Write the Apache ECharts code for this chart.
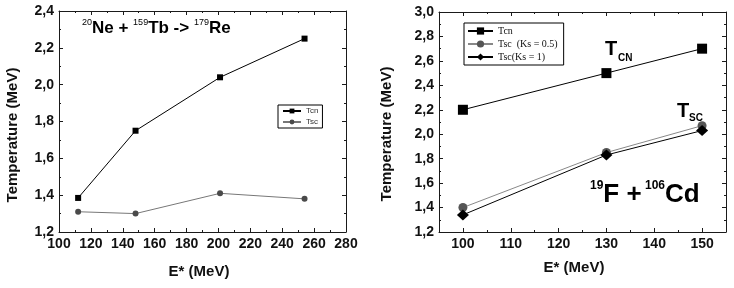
<!DOCTYPE html>
<html>
<head>
<meta charset="utf-8">
<script src="https://cdn.jsdelivr.net/npm/echarts@6/dist/echarts.min.js"></script>
<style>
  html, body { margin: 0; padding: 0; background: #fff; }
  #chart { width: 734px; height: 288px; }
</style>
</head>
<body>
<div id="chart"></div>
<script>
// left panel: 20Ne + 159Tb
const leftE = [112, 148, 201, 254]
const leftTcn = [1.385, 1.75, 2.04, 2.25]
const leftTsc = [1.31, 1.30, 1.41, 1.38]

// right panel: 19F + 106Cd
const rightE = [100, 130, 150]
const rightTcn = [2.2, 2.5, 2.7]
const rightTscHalf = [1.40, 1.85, 2.07]
const rightTscOne = [1.34, 1.83, 2.03]
const rightTicks = [100, 110, 120, 130, 140, 150]

const SANS = 'Liberation Sans'
const SERIF = 'Liberation Serif'
const INK = '#1a1a1a'

const pairs = (xs, ys) => xs.map((x, i) => [x, ys[i]])
const comma = v => v.toFixed(1).replace('.', ',')

const labelStyle = {
  fontFamily: SANS, fontSize: 14, fontWeight: 'bold', color: '#111', margin: 5
}

// one axis with inward ticks; pass extra fields to override
function axis(extra) {
  return Object.assign({
    type: 'value',
    splitLine: { show: false },
    axisLine: { show: true, onZero: false, lineStyle: { color: INK, width: 1 } },
    axisTick: { show: true, inside: true, length: 4, lineStyle: { color: INK } },
    minorTick: { show: true, splitNumber: 2, length: 2, lineStyle: { color: INK } },
    axisLabel: { show: false }
  }, extra)
}

const xAxes = [
  // left grid
  axis({
    gridIndex: 0, position: 'bottom', min: 100, max: 280, interval: 20,
    axisLabel: Object.assign({ show: true, showMinLabel: true, showMaxLabel: true }, labelStyle)
  }),
  axis({ gridIndex: 0, position: 'top', min: 100, max: 280, interval: 20 }),
  // right grid
  axis({
    gridIndex: 1, position: 'bottom', min: 95, max: 155,
    minorTick: { show: false },
    axisTick: { show: true, inside: true, length: 4, customValues: rightTicks, lineStyle: { color: INK } },
    axisLabel: Object.assign({ show: true, customValues: rightTicks }, labelStyle)
  }),
  axis({
    gridIndex: 1, position: 'top', min: 95, max: 155,
    minorTick: { show: false },
    axisTick: { show: true, inside: true, length: 4, customValues: rightTicks, lineStyle: { color: INK } }
  }),
  // minor ticks every 5 on the right grid
  axis({
    gridIndex: 1, position: 'bottom', min: 95, max: 155, interval: 5,
    axisLine: { show: false }, minorTick: { show: false },
    axisTick: { show: true, inside: true, length: 2, lineStyle: { color: INK } }
  }),
  axis({
    gridIndex: 1, position: 'top', min: 95, max: 155, interval: 5,
    axisLine: { show: false }, minorTick: { show: false },
    axisTick: { show: true, inside: true, length: 2, lineStyle: { color: INK } }
  })
]

const yAxes = [
  axis({
    gridIndex: 0, position: 'left', min: 1.2, max: 2.4, interval: 0.2,
    axisLabel: Object.assign({ show: true, showMinLabel: true, showMaxLabel: true, formatter: comma }, labelStyle)
  }),
  axis({ gridIndex: 0, position: 'right', min: 1.2, max: 2.4, interval: 0.2 }),
  axis({
    gridIndex: 1, position: 'left', min: 1.2, max: 3.0, interval: 0.2,
    axisLabel: Object.assign({ show: true, showMinLabel: true, showMaxLabel: true, formatter: comma }, labelStyle)
  }),
  axis({ gridIndex: 1, position: 'right', min: 1.2, max: 3.0, interval: 0.2 })
]

function line(name, xi, yi, data, symbol, size, dot, stroke) {
  return {
    name, type: 'line', xAxisIndex: xi, yAxisIndex: yi, data,
    symbol, symbolSize: size, showSymbol: true, animation: false,
    itemStyle: { color: dot },
    lineStyle: { color: stroke, width: 1 }
  }
}

// axis titles placed by hand, the originals sit a bit off-centre
function axisTitle(text, x, y, vertical) {
  return {
    type: 'text', x, y, rotation: vertical ? Math.PI / 2 : 0,
    style: {
      text, font: 'bold 15px "Liberation Sans"', fill: '#111',
      align: 'center', verticalAlign: 'middle',
      textAlign: 'center', textVerticalAlign: 'middle'
    }
  }
}

const option = {
  animation: false,
  grid: [
    { left: 59, top: 11, width: 287, height: 221 },
    { left: 439, top: 12, width: 287, height: 220 }
  ],
  xAxis: xAxes,
  yAxis: yAxes,
  legend: [
    {
      data: ['Tcn', 'Tsc'], orient: 'vertical', left: 278, top: 105,
      padding: [2, 4, 2, 4], itemGap: 3, itemWidth: 18, itemHeight: 6,
      borderColor: '#000', borderWidth: 1, selectedMode: false,
      textStyle: { fontFamily: SANS, fontSize: 8, color: '#333' }
    },
    {
      data: ['Tcn ', 'Tsc  (Ks = 0.5)', 'Tsc(Ks = 1)'], orient: 'vertical', left: 464, top: 23,
      padding: [3, 6, 3, 3], itemGap: 3, itemWidth: 25, itemHeight: 9,
      borderColor: '#000', borderWidth: 1, selectedMode: false,
      textStyle: { fontFamily: SERIF, fontSize: 10, color: '#111' }
    }
  ],
  series: [
    line('Tcn', 0, 0, pairs(leftE, leftTcn), 'rect', 6, '#000', '#000'),
    line('Tsc', 0, 0, pairs(leftE, leftTsc), 'circle', 6, '#4a4a4a', '#777'),
    line('Tcn ', 2, 2, pairs(rightE, rightTcn), 'rect', 10, '#000', '#000'),
    line('Tsc  (Ks = 0.5)', 2, 2, pairs(rightE, rightTscHalf), 'circle', 9, '#555', '#888'),
    line('Tsc(Ks = 1)', 2, 2, pairs(rightE, rightTscOne), 'diamond', [12, 11], '#000', '#000')
  ],
  graphic: [
    axisTitle('Temperature (MeV)', 13, 135, true),
    axisTitle('Temperature (MeV)', 387, 134, true),
    axisTitle('E* (MeV)', 199, 272, false),
    axisTitle('E* (MeV)', 574, 268, false),
    {
      type: 'text', left: 82, top: 18,
      style: {
        text: '{s|20}{b|Ne + }{s|159}{b|Tb -> }{s|179}{b|Re}',
        rich: {
          b: { fontFamily: SANS, fontSize: 17, fontWeight: 'bold', fill: '#000', lineHeight: 20 },
          s: { fontFamily: SANS, fontSize: 9, fill: '#000', lineHeight: 20, verticalAlign: 'top' }
        }
      }
    },
    {
      type: 'text', left: 590, top: 180,
      style: {
        text: '{s|19}{b|F +}{s| 106}{b|Cd}',
        rich: {
          b: { fontFamily: SANS, fontSize: 26, fontWeight: 'bold', fill: '#000', lineHeight: 30 },
          s: { fontFamily: SANS, fontSize: 12, fontWeight: 'bold', fill: '#000', lineHeight: 30, verticalAlign: 'top' }
        }
      }
    },
    { type: 'text', left: 605, top: 39, style: { text: 'T', font: 'bold 20px "Liberation Sans"', fill: '#000' } },
    { type: 'text', left: 618, top: 53, style: { text: 'CN', font: 'bold 10px "Liberation Sans"', fill: '#000' } },
    { type: 'text', left: 677, top: 101, style: { text: 'T', font: 'bold 20px "Liberation Sans"', fill: '#000' } },
    { type: 'text', left: 689, top: 113, style: { text: 'SC', font: 'bold 10px "Liberation Sans"', fill: '#000' } }
  ]
}

const chart = echarts.init(document.getElementById('chart'))
chart.setOption(option)
</script>
</body>
</html>
